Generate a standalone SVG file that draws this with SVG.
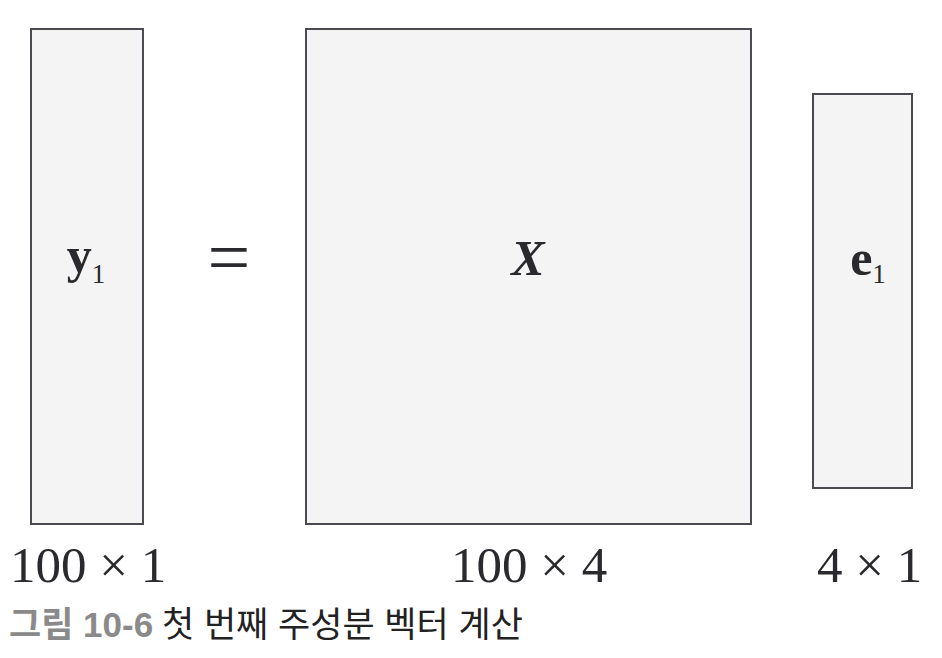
<svg xmlns="http://www.w3.org/2000/svg" width="942" height="658" viewBox="0 0 942 658">
<style>
.box{fill:#f4f4f4;stroke:#4a4a50;stroke-width:2}
.sym{font-family:"Liberation Serif",serif;font-weight:bold;font-size:50px;fill:#2a2a2e}
.sub{font-family:"Liberation Serif",serif;font-weight:normal;font-size:27px}
.dim{font-family:"Liberation Serif",serif;font-size:51px;fill:#2a2a2e}
.cap{font-family:"Liberation Sans","Noto Sans CJK KR",sans-serif;font-size:35px}
</style>
<rect width="942" height="658" fill="#ffffff"/>
<g id="y1">
<rect class="box" x="31" y="29" width="112" height="495"/>
<text class="sym" x="86" y="272" text-anchor="middle">y<tspan class="sub" dy="11">1</tspan></text>
</g>
<g id="eq">
<text x="229" y="283" text-anchor="middle" font-family="Liberation Serif,serif" font-size="76" fill="#2a2a2e">=</text>
</g>
<g id="X">
<rect class="box" x="306" y="29" width="445" height="495"/>
<text class="sym" x="528" y="275" text-anchor="middle" font-style="italic" font-size="42">X</text>
</g>
<g id="e1">
<rect class="box" x="813" y="94" width="99" height="394"/>
<text class="sym" x="868" y="275" text-anchor="middle">e<tspan class="sub" dy="8">1</tspan></text>
</g>
<g id="labels">
<text class="dim" x="10" y="582">100 × 1</text>
<text class="dim" x="451" y="582">100 × 4</text>
<text class="dim" x="817" y="582">4 × 1</text>
</g>
<g id="caption">
<text class="cap" x="9" y="637"><tspan fill="#8a8a8a" font-weight="bold">그림 10-6</tspan><tspan fill="#222222" x="162">첫 번째 주성분 벡터 계산</tspan></text>
</g>
</svg>
